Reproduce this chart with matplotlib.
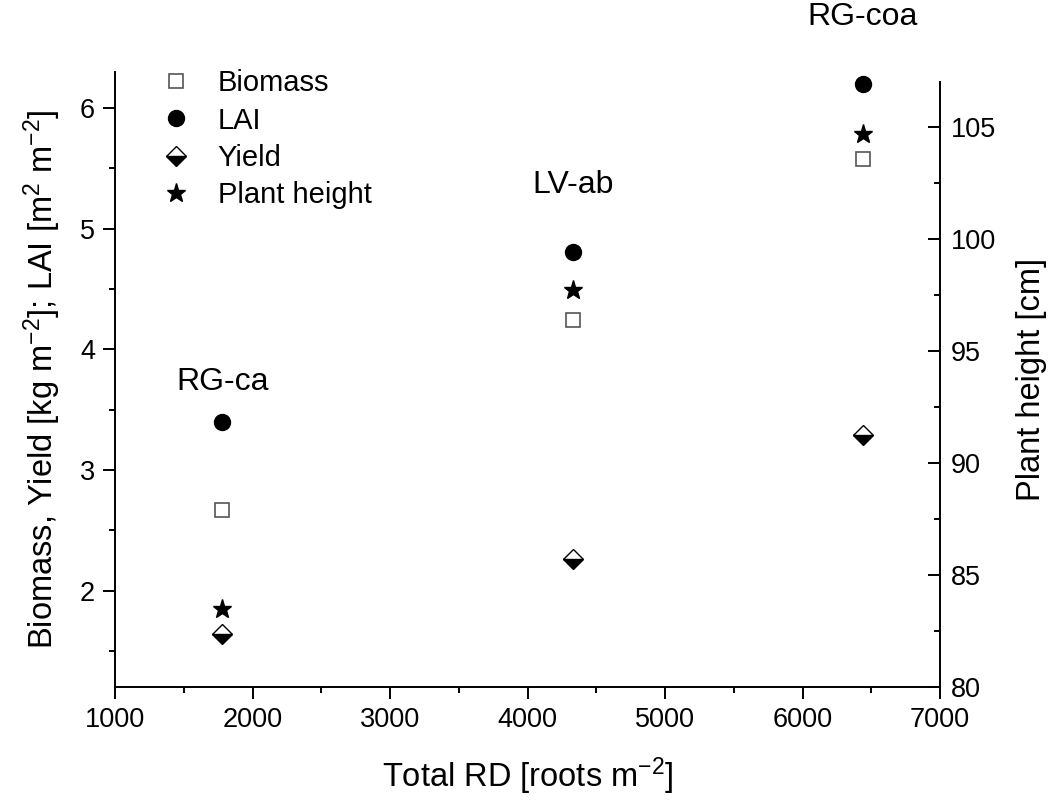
import matplotlib
matplotlib.use("Agg")
import matplotlib.pyplot as plt
from matplotlib.ticker import MultipleLocator

plt.rcParams['font.family'] = ['Liberation Sans', 'DejaVu Sans']
plt.rcParams['mathtext.fontset'] = 'custom'
plt.rcParams['mathtext.rm'] = 'Liberation Sans'
plt.rcParams['mathtext.it'] = 'Liberation Sans:italic'

# root density per treatment and measured crop traits
treatments = ['RG-ca', 'LV-ab', 'RG-coa']
total_rd = [1780, 4330, 6440]
biomass = [2.67, 4.24, 5.58]
lai = [3.40, 4.81, 6.20]
yield_ = [1.64, 2.26, 3.29]
plant_height = [83.5, 97.7, 104.7]
label_y = [3.73, 5.36, 6.76]

fig = plt.figure(figsize=(10.63, 8.02), dpi=100)
ax = fig.add_axes([0.1082, 0.1434, 0.7761, 0.7668])
ax2 = ax.twinx()

h_bio, = ax.plot(total_rd, biomass, ls='none', marker='s', ms=10,
                 mfc='white', mec='#555555', mew=1.2, label='Biomass')
h_lai, = ax.plot(total_rd, lai, ls='none', marker='o', ms=11.5,
                 mfc='black', mec='black', label='LAI')
h_yld, = ax.plot(total_rd, yield_, ls='none', marker='D', ms=10.5,
                 fillstyle='bottom', mfc='black', mfcalt='white', mec='black',
                 mew=1.0, label='Yield')
h_ph, = ax2.plot(total_rd, plant_height, ls='none', marker='*', ms=14,
                 mfc='black', mec='black', label='Plant height')

for x, y, t in zip(total_rd, label_y, treatments):
    ax.text(x, y, t, ha='center', va='center', fontsize=23, clip_on=False)

ax.set_xlim(1000, 7000)
ax.set_ylim(1.2, 6.3)
ax2.set_ylim(80, 107.45)

ax.xaxis.set_major_locator(MultipleLocator(1000))
ax.xaxis.set_minor_locator(MultipleLocator(500))
ax.yaxis.set_major_locator(MultipleLocator(1))
ax.yaxis.set_minor_locator(MultipleLocator(0.5))
ax2.yaxis.set_major_locator(MultipleLocator(5))
ax2.yaxis.set_minor_locator(MultipleLocator(2.5))

for a in (ax, ax2):
    a.spines['top'].set_visible(False)
    for s in a.spines.values():
        s.set_linewidth(1.4)
ax.spines['right'].set_visible(False)
ax2.spines['left'].set_visible(False)
ax2.spines['bottom'].set_visible(False)
ax2.spines['right'].set_bounds(80, 107)

ax.tick_params(axis='both', which='major', direction='out', length=8.5,
               width=1.4, labelsize=19.5, pad=6)
ax.tick_params(axis='both', which='minor', direction='out', length=4.5,
               width=1.4)
ax.tick_params(top=False, right=False, which='both')
ax2.tick_params(axis='y', which='major', direction='in', length=8.5,
                width=1.4, labelsize=19.5, pad=8)
ax2.tick_params(axis='y', which='minor', direction='in', length=4.5,
                width=1.4)

ax.set_xlabel('Total RD [roots m$^{-2}$]', fontsize=23.5, labelpad=16)
ax.set_ylabel('Biomass, Yield [kg m$^{-2}$]; LAI [m$^{2}$ m$^{-2}$]',
              fontsize=23.5, labelpad=12)
ax2.set_ylabel('Plant height [cm]', fontsize=23.5, labelpad=14)

ax.legend(handles=[h_bio, h_lai, h_yld, h_ph], loc='upper left',
          bbox_to_anchor=(0.015, 1.047), frameon=False, fontsize=21,
          handlelength=1.5, handletextpad=0.7, labelspacing=0.32,
          numpoints=1)

fig.savefig('out.png', dpi=100, facecolor='white')
